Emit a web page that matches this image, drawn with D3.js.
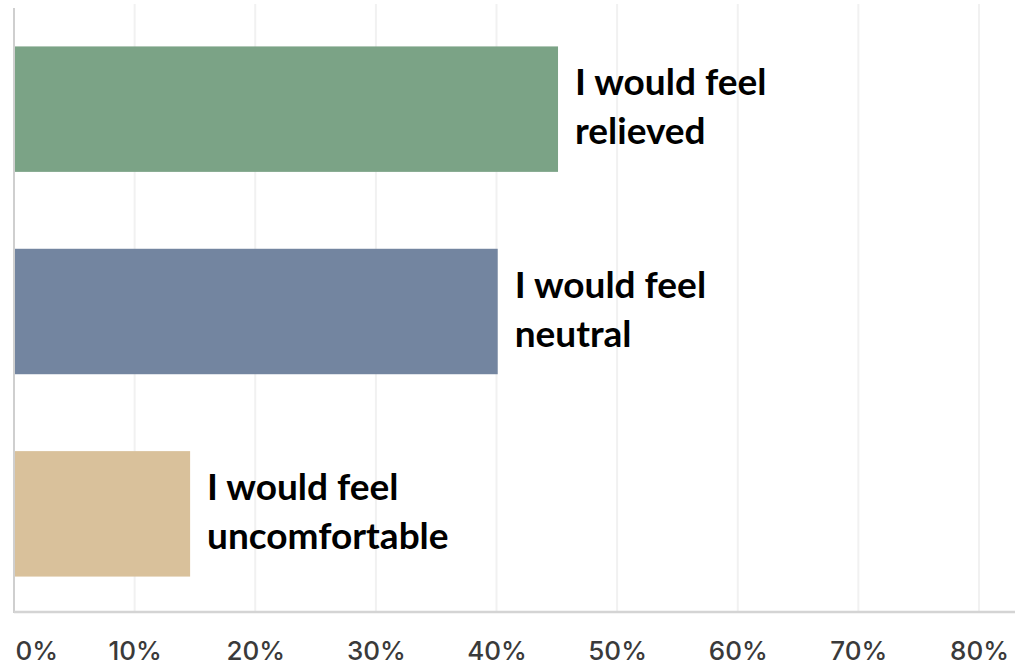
<!DOCTYPE html>
<html>
<head>
<meta charset="utf-8">
<script src="https://cdn.jsdelivr.net/npm/d3@7"></script>
<style>
  html, body { margin: 0; padding: 0; background: #fff; }
  svg { display: block; }
  .tick text { font-family: Inter, "Noto Sans", sans-serif; }
</style>
</head>
<body>
<svg id="chart" width="1026" height="668"></svg>
<script>
// ---------- data ----------
const categories = ["relieved", "neutral", "uncomfortable"];
const labelLines = [["I would feel", "relieved"], ["I would feel", "neutral"], ["I would feel", "uncomfortable"]];
const values = [45.1, 40.1, 14.6];
const colors = ["#7ba386", "#7385a0", "#d9c19b"];
const xTicks = [0, 10, 20, 30, 40, 50, 60, 70, 80];

const svg = d3.select("#chart");

// ---------- scales ----------
const x = d3.scaleLinear().domain([0, 80]).range([14, 979]);
const y = d3.scaleBand().domain(categories).range([10, 613]).paddingInner(0.38).paddingOuter(0.18);

// ---------- grid ----------
svg.append("g").selectAll("line.grid").data(xTicks.slice(1)).join("line")
  .attr("class", "grid")
  .attr("x1", d => x(d)).attr("x2", d => x(d))
  .attr("y1", 4).attr("y2", 612)
  .attr("stroke", "#f1f1f1").attr("stroke-width", 2);

// ---------- bars ----------
svg.append("g").selectAll("rect").data(values).join("rect")
  .attr("x", x(0))
  .attr("y", (d, i) => y(categories[i]))
  .attr("width", d => x(d) - x(0))
  .attr("height", y.bandwidth())
  .attr("fill", (d, i) => colors[i]);

// ---------- axes ----------
svg.append("line")
  .attr("x1", x(0)).attr("x2", x(0)).attr("y1", 8).attr("y2", 613)
  .attr("stroke", "#cfcfcf").attr("stroke-width", 2);
svg.append("line")
  .attr("x1", x(0)).attr("x2", 1015).attr("y1", 612).attr("y2", 612)
  .attr("stroke", "#d4d4d4").attr("stroke-width", 2.5);

const xAxis = d3.axisBottom(x).tickValues(xTicks).tickFormat(d => d + "%").tickSize(0).tickPadding(0);
const axG = svg.append("g").attr("transform", "translate(0,660)").call(xAxis);
axG.select(".domain").remove();
axG.selectAll(".tick text")
  .attr("font-size", 26).attr("font-weight", 500).attr("fill", "#3a3a3a")
  .attr("y", 0).attr("dy", 0)
  .attr("text-anchor", d => d === 0 ? "start" : "middle")
  .attr("dx", d => d === 0 ? 1 : 0);

// ---------- labels ----------
const lbl = svg.append("g").selectAll("text").data(values).join("text")
  .attr("font-family", "Lato, 'Open Sans', sans-serif")
  .attr("font-weight", 700)
  .attr("font-size", 37)
  .attr("fill", "#000")
  .attr("transform", (d, i) => `translate(${x(d) + 17},${y(categories[i]) + y.bandwidth() / 2})`);
lbl.selectAll("tspan").data((d, i) => labelLines[i]).join("tspan")
  .attr("x", 0)
  .attr("y", (d, j) => j === 0 ? -14 : 35)
  .text(d => d);
</script>
</body>
</html>
